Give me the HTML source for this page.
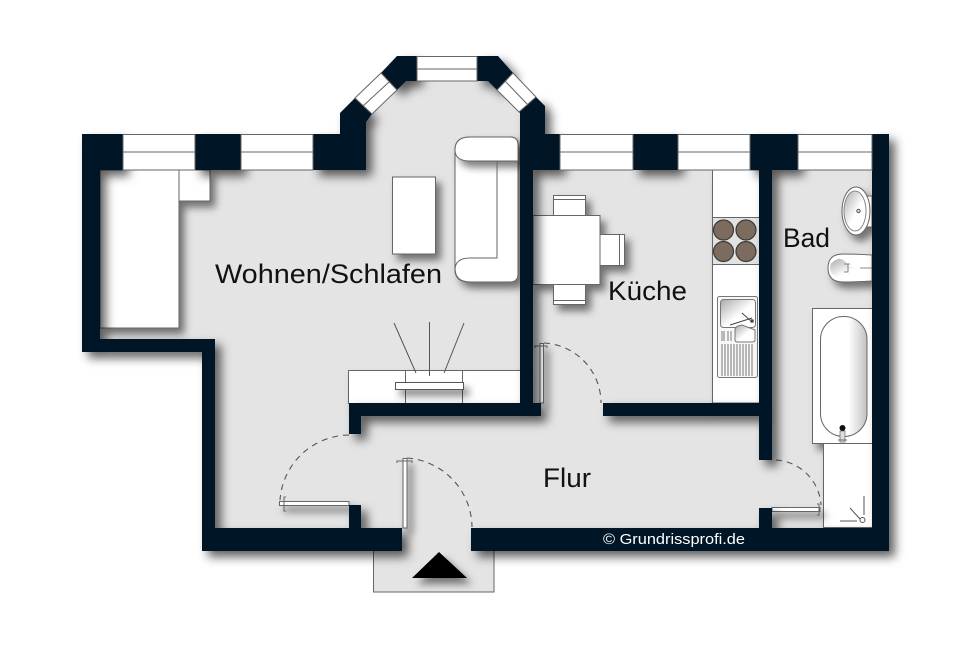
<!DOCTYPE html>
<html><head><meta charset="utf-8"><style>html,body{margin:0;padding:0;background:#fff}svg{display:block}text{font-family:"Liberation Sans",sans-serif;fill:#111}</style></head><body>
<svg width="960" height="652" viewBox="0 0 960 652" xmlns="http://www.w3.org/2000/svg">
<defs>
<filter id="s" filterUnits="userSpaceOnUse" x="0" y="0" width="960" height="652"><feDropShadow dx="6" dy="6" stdDeviation="5" flood-color="#000" flood-opacity=".62"/></filter>
<filter id="f" filterUnits="userSpaceOnUse" x="0" y="0" width="960" height="652"><feDropShadow dx="5" dy="6" stdDeviation="4" flood-color="#000" flood-opacity=".5"/></filter>
<linearGradient id="bs" x1="0" x2="1" y1="0" y2="1"><stop offset="0" stop-color="#aaa"/><stop offset=".55" stop-color="#fff"/></linearGradient>
<linearGradient id="tub" x1="0" x2="1" y1="0" y2="0"><stop offset=".6" stop-color="#fff"/><stop offset="1" stop-color="#c4c0c0"/></linearGradient>
</defs>
<rect width="960" height="652" fill="#fff"/>
<!-- porch -->
<rect x="373.500" y="548" width="120.500" height="44" fill="#e4e4e5" stroke="#666" stroke-width="1"/>
<path d="M412 578L439 552L467 578Z" fill="#000" filter="url(#f)"/>
<!-- floor -->
<path d="M90 140H340V113L397 60H498L540 102V140H880V540H471V551H402V540H210V345H90Z" fill="#e4e4e5"/>
<!-- furniture -->
<g filter="url(#f)" fill="#fff" stroke="#666" stroke-width="1">
<rect x="100" y="170" width="79" height="158"/>
<rect x="179" y="170" width="31" height="31"/>
<rect x="392.500" y="177" width="43" height="77"/>
<path d="M470 137H510Q518 137 518 145V274Q518 282 510 282H470Q455 282 455 268V150Q455 137 470 137Z"/>
<rect x="348.500" y="370.500" width="172" height="33"/>
<rect x="553.500" y="195.500" width="32" height="22"/>
<rect x="553.500" y="282.500" width="32" height="22"/>
<rect x="599.500" y="234.500" width="25" height="31"/>
<rect x="533" y="215.500" width="67" height="69"/>
<rect x="712.500" y="170" width="47" height="233"/>
<rect x="812.500" y="308.500" width="60" height="135"/>
<rect x="823.500" y="443.500" width="49" height="84"/>
<path d="M872 196H858V227H872Z"/>
<ellipse cx="856" cy="211" rx="14" ry="24"/>
<path d="M872 255Q855 254 843 254Q828 254 828 268Q828 282 843 282Q855 282 872 281Z"/>
</g>
<path d="M470 137H510Q518 137 518 145V161H470Q455 161 455 150Q455 137 470 137Z" fill="#fff" stroke="#666" filter="url(#f)"/>
<g fill="none" stroke="#666" stroke-width="1">
<path d="M497 161V258H470"/>
<path d="M470 258Q455 258 455 270Q455 282 470 282"/>
<path d="M553.500 199.500H585.500M553.500 300.500H585.500M619.500 234.500V265.500"/>
<rect x="405.500" y="370.500" width="57" height="33"/>
</g>
<rect x="395.500" y="382.500" width="68" height="7" fill="#fff" stroke="#555" filter="url(#f)"/>
<path d="M394 323L416 373M429.500 322V376M464 323L444 373" stroke="#555" stroke-width="1" fill="none"/>
<!-- hob -->
<rect x="712.500" y="217.500" width="47" height="47" fill="#e2e2e2" stroke="#666"/>
<g fill="#7b6c5f" stroke="#3d3a36" stroke-width="1.200"><circle cx="723.500" cy="230" r="10"/><circle cx="746" cy="230" r="10"/><circle cx="723.500" cy="251.500" r="10"/><circle cx="746" cy="251.500" r="10"/></g>
<!-- sink -->
<g fill="none" stroke="#777" stroke-width="1">
<rect x="717.500" y="296.500" width="40" height="81" rx="2" fill="#f8f8f8"/>
<rect x="720.500" y="299.500" width="35" height="28" rx="3" fill="url(#bs)"/>
<path d="M735 330Q735 326 742 325L755 330V340Q755 342 752 342H738Q735 342 735 340Z" fill="url(#bs)"/>
<path d="M722 331V341M724 331V341M728 331V341M731 331V341M722 344V376M725 344V376M728 344V376M731 344V376M734 344V376M737 344V376M740 344V376M743 344V376M746 344V376M749 344V376M752 344V376"/>
<path d="M730 325L752 318M742 313L752 322" stroke="#444"/><circle cx="752" cy="321" r="1.500" fill="#333"/>
</g>
<!-- tub -->
<rect x="820.500" y="316.500" width="46.500" height="120" rx="23" fill="url(#tub)" stroke="#666"/>
<rect x="840" y="431" width="5" height="11" fill="#ddd" stroke="#666" stroke-width=".7"/>
<circle cx="842.500" cy="428" r="3" fill="#111"/>
<path d="M838 440H847" stroke="#666"/>
<!-- bath details -->
<ellipse cx="855" cy="211" rx="11" ry="20" fill="url(#bs)" stroke="#888"/>
<circle cx="858.500" cy="211" r="1.700" fill="#ddd" stroke="#555"/>
<path d="M870 268Q855 267 848 266C848 262 841 258 838 259Q830 262 830 268Q831 276 840 279Q847 278 848 270" fill="url(#bs)" stroke="none"/>
<path d="M845 264H850M860 268H872M844 264H848V272H844" stroke="#666" fill="none" stroke-width=".8"/>
<path d="M823.500 443V527" stroke="#666"/>
<path d="M864 496V515M850 508L860 519M840 521H857" stroke="#555" fill="none"/><circle cx="862.500" cy="520" r="2.500" fill="#fff" stroke="#555"/>
<!-- door leaves and arcs -->
<g fill="#fff" stroke="#666" stroke-width="1" filter="url(#f)">
<rect x="403" y="458.500" width="4" height="69.500"/>
<rect x="279.500" y="501.500" width="69.500" height="4"/>
<rect x="540" y="343.500" width="3.500" height="59.500"/>
<rect x="772" y="507.500" width="48" height="4"/>
</g>
<g fill="none" stroke="#555" stroke-width="1.100" stroke-dasharray="6 5">
<path d="M407 458A70 70 0 0 1 472 527"/>
<path d="M349 435A70 70 0 0 0 280 500"/>
<path d="M544 343A60 60 0 0 1 601 403"/>
<path d="M776 460A48 48 0 0 1 821 505"/>
</g>
<g fill="none" stroke="#666" stroke-width="1">
<path d="M397 463V461H412V463M286 497H284V511H286M535 348V346H547V348M817 504H819V515H817"/>
</g>
<!-- walls -->
<g fill="#001226" filter="url(#s)">
<path d="M82 134H123V170H100V339H215V528H349V505H361V528H402V551H202V352H82Z"/>
<rect x="195" y="134" width="46" height="36"/>
<path d="M313 134H340V113L355 98L372 114L366 122V170H313Z"/>
<path d="M381 73L397 56H417V81H406L397 90Z"/>
<path d="M477 56H498L513 73L497 90L488 81H477Z"/>
<path d="M519 112L536 97L545 106V134H560V170H533V403H541V416H361V434H349V403H520V113Z"/>
<rect x="633" y="134" width="45" height="36"/>
<path d="M750 134H798V170H772V460H759V416H603V403H759V170H750Z"/>
<path d="M471 528H759V508H772V528H872V134H889V551H471Z"/>
</g>
<!-- windows -->
<g fill="#fff" stroke="#666" stroke-width="1">
<rect x="123" y="134.500" width="72" height="35.500"/>
<rect x="241" y="134.500" width="72" height="35.500"/>
<rect x="560" y="134.500" width="73" height="35.500"/>
<rect x="678" y="134.500" width="72" height="35.500"/>
<rect x="798" y="134.500" width="74" height="35.500"/>
<rect x="417" y="56.500" width="60" height="24.500"/>
<path d="M355 98L381 73L397 90L372 114Z"/>
<path d="M513 73L536 97L519 112L497 90Z"/>
<path d="M123 152H195M241 152H313M560 152H633M678 152H750M798 152H872M417 69H477M363 106L389 82M505 81L528 105"/>
</g>
<!-- labels -->
<text x="215" y="283" font-size="27" textLength="227" lengthAdjust="spacingAndGlyphs">Wohnen/Schlafen</text>
<text x="608" y="300" font-size="27" textLength="79" lengthAdjust="spacingAndGlyphs">Küche</text>
<text x="783" y="247" font-size="27" textLength="47" lengthAdjust="spacingAndGlyphs">Bad</text>
<text x="543" y="487" font-size="27" textLength="48" lengthAdjust="spacingAndGlyphs">Flur</text>
<text x="603" y="544" font-size="15" textLength="142" lengthAdjust="spacingAndGlyphs" style="fill:#fff">© Grundrissprofi.de</text>
</svg>
</body></html>
